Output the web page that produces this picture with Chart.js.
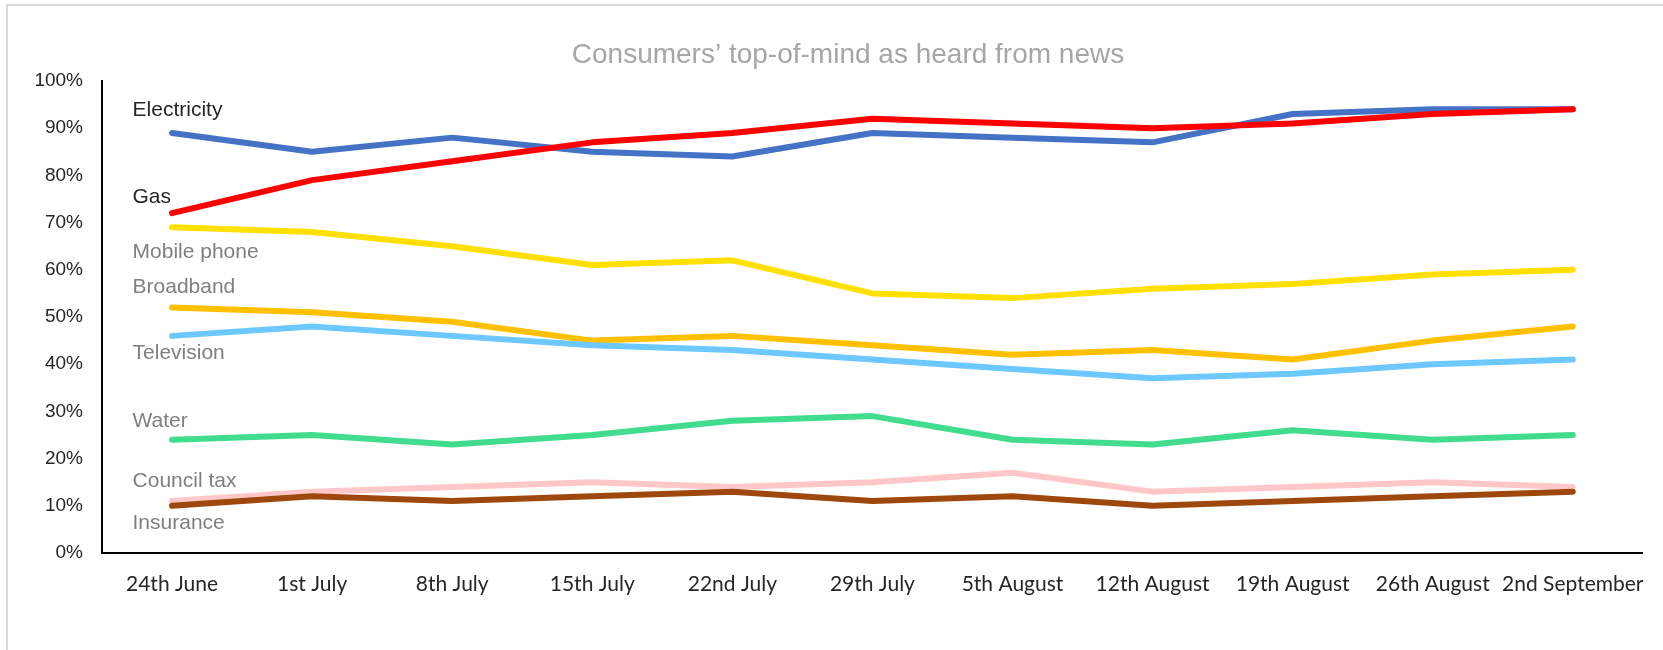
<!DOCTYPE html>
<html>
<head>
<meta charset="utf-8">
<title>Consumers' top-of-mind</title>
<script src="https://cdn.jsdelivr.net/npm/chart.js@4/dist/chart.umd.min.js"></script>
<style>
  html, body { margin: 0; padding: 0; background: #fff; }
  #wrap { width: 1663px; height: 650px; position: relative; }
</style>
</head>
<body>
<div id="wrap"><canvas id="chart-area"></canvas></div>
<script>
'use strict';

// Survey weeks
var weeks = ['24th June', '1st July', '8th July', '15th July', '22nd July', '29th July',
  '5th August', '12th August', '19th August', '26th August', '2nd September'];

// Share of consumers (%) per topic
var electricity = [89, 85, 88, 85, 84, 89, 88, 87, 93, 94, 94];
var gas         = [72, 79, 83, 87, 89, 92, 91, 90, 91, 93, 94];
var mobilePhone = [69, 68, 65, 61, 62, 55, 54, 56, 57, 59, 60];
var broadband   = [52, 51, 49, 45, 46, 44, 42, 43, 41, 45, 48];
var television  = [46, 48, 46, 44, 43, 41, 39, 37, 38, 40, 41];
var water       = [24, 25, 23, 25, 28, 29, 24, 23, 26, 24, 25];
var councilTax  = [11, 13, 14, 15, 14, 15, 17, 13, 14, 15, 14];
var insurance   = [10, 12, 11, 12, 13, 11, 12, 10, 11, 12, 13];

var seriesNames = ['Electricity', 'Gas', 'Mobile phone', 'Broadband', 'Television',
  'Water', 'Council tax', 'Insurance'];
var seriesData = [electricity, gas, mobilePhone, broadband, television, water, councilTax, insurance];

// Y axis ticks
var yTicks = [0, 10, 20, 30, 40, 50, 60, 70, 80, 90, 100];

var chartTitle = 'Consumers\u2019 top-of-mind as heard from news';

// Styling per series: line colour, label colour, label shift from first point (px)
var lineColors = ['#4472C4', '#FF0000', '#FFE000', '#FFC000', '#6DC8FF', '#41DC8E', '#FFC7C7', '#9E480E'];
var labelColors = ['#262626', '#262626', '#7F7F7F', '#7F7F7F', '#7F7F7F', '#7F7F7F', '#7F7F7F', '#7F7F7F'];
var labelShift = [-23, -16, 25, -20, 17, -19, -20, 17];

var datasets = seriesNames.map(function(name, i) {
  return {
    label: name,
    data: seriesData[i],
    borderColor: lineColors[i],
    backgroundColor: lineColors[i],
    borderWidth: 6,
    borderCapStyle: 'round',
    borderJoinStyle: 'round',
    pointRadius: 0,
    tension: 0,
    fill: false,
    order: seriesNames.length - i
  };
});

// Grey frame round the chart (cropped at right and bottom) + title centred on the frame
var framePlugin = {
  id: 'frame',
  beforeDraw: function(chart) {
    var ctx = chart.ctx;
    ctx.save();
    ctx.strokeStyle = '#D9D9D9';
    ctx.lineWidth = 2;
    ctx.beginPath();
    ctx.moveTo(7, chart.height + 2);
    ctx.lineTo(7, 5);
    ctx.lineTo(chart.width + 2, 5);
    ctx.stroke();

    ctx.fillStyle = '#A6A6A6';
    ctx.font = '28px "Liberation Sans", Arial, sans-serif';
    ctx.textAlign = 'center';
    ctx.textBaseline = 'middle';
    ctx.fillText(chartTitle, 848, 55);
    ctx.restore();
  }
};

// Series names written next to the first point of each line
var seriesLabels = {
  id: 'seriesLabels',
  afterDatasetsDraw: function(chart) {
    var ctx = chart.ctx;
    var x = chart.scales.x.getPixelForValue(0) - 39.5;
    ctx.save();
    ctx.font = '21px "Liberation Sans", Arial, sans-serif';
    ctx.textAlign = 'left';
    ctx.textBaseline = 'middle';
    seriesNames.forEach(function(name, i) {
      var y = chart.scales.y.getPixelForValue(seriesData[i][0]) + labelShift[i];
      ctx.fillStyle = labelColors[i];
      ctx.fillText(name, x, y);
    });
    ctx.restore();
  }
};

var config = {
  type: 'line',
  data: {
    labels: weeks,
    datasets: datasets
  },
  options: {
    responsive: true,
    maintainAspectRatio: false,
    animation: false,
    layout: {
      padding: { top: 81, left: 0, right: 11, bottom: 0 }
    },
    plugins: {
      legend: { display: false },
      tooltip: { enabled: false },
      title: { display: false }
    },
    scales: {
      x: {
        offset: true,
        grid: { display: false, drawTicks: false },
        border: { display: true, color: '#000', width: 2 },
        ticks: {
          color: '#262626',
          font: { family: 'Lato, Carlito, Calibri, sans-serif', size: 21 },
          padding: 19,
          maxRotation: 0,
          autoSkip: false
        },
        afterFit: function(scale) { scale.height = 97; }
      },
      y: {
        min: 0,
        max: 100,
        afterBuildTicks: function(scale) {
          scale.ticks = yTicks.map(function(v) { return { value: v }; });
        },
        grid: { display: false, drawTicks: false },
        border: { display: true, color: '#000', width: 2 },
        ticks: {
          color: '#262626',
          font: { family: '"Liberation Sans", Arial, sans-serif', size: 19 },
          padding: 19,
          callback: function(v) { return v + '%'; }
        },
        afterFit: function(scale) { scale.width = 102; }
      }
    }
  },
  plugins: [framePlugin, seriesLabels]
};

var ctx = document.getElementById('chart-area').getContext('2d');
window.myLine = new Chart(ctx, config);
</script>
</body>
</html>
